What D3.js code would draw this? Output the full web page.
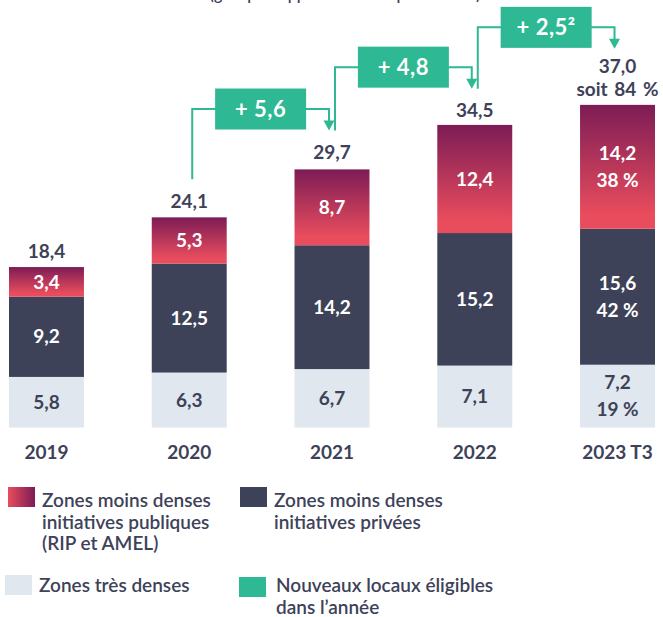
<!DOCTYPE html>
<html>
<head>
<meta charset="utf-8">
<script src="https://cdn.jsdelivr.net/npm/d3@7"></script>
<style>
  body { margin: 0; background: #fff; }
  svg { display: block; font-family: Lato, "Open Sans", sans-serif; }
</style>
</head>
<body>
<div class="chart"></div>
<script>
const years = ["2019", "2020", "2021", "2022", "2023 T3"];
const denseValues = [5.8, 6.3, 6.7, 7.1, 7.2];
const privateValues = [9.2, 12.5, 14.2, 15.2, 15.6];
const publicValues = [3.4, 5.3, 8.7, 12.4, 14.2];
const totalValues = [18.4, 24.1, 29.7, 34.5, 37.0];
const lastShares = ["19 %", "42 %", "38 %"];
const lastTotalNote = "soit 84 %";
const gainFrom = ["2020", "2021", "2022"];
const gainTo = ["2021", "2022", "2023 T3"];
const gainLabels = ["+ 5,6", "+ 4,8", "+ 2,5²"];
const legendItems = [
  { key: "public", lines: ["Zones moins denses", "initiatives publiques", "(RIP et AMEL)"] },
  { key: "private", lines: ["Zones moins denses", "initiatives privées"] },
  { key: "dense", lines: ["Zones très denses"] },
  { key: "gain", lines: ["Nouveaux locaux éligibles", "dans l’année"] }
];

const width = 663,
  height = 617,
  textColor = "#3e4259",
  darkColor = "#3e4259",
  lightColor = "#e1e7ee",
  greenColor = "#2eb894",
  redColor = "#e84c5d",
  purpleColor = "#7c1c55";

const fmt = (v) => d3.format(".1f")(v).replace(".", ",");

const svg = d3
  .select(".chart")
  .append("svg")
  .attr("width", width)
  .attr("height", height);

const defs = svg.append("defs");

const barGradient = defs
  .append("linearGradient")
  .attr("id", "barGradient")
  .attr("x1", 0)
  .attr("y1", 0)
  .attr("x2", 0)
  .attr("y2", 1);
barGradient.append("stop").attr("offset", 0).attr("stop-color", purpleColor);
barGradient.append("stop").attr("offset", 0.88).attr("stop-color", redColor);
barGradient.append("stop").attr("offset", 1).attr("stop-color", redColor);

const legendGradient = defs
  .append("linearGradient")
  .attr("id", "legendGradient")
  .attr("x1", 0)
  .attr("y1", 0)
  .attr("x2", 1)
  .attr("y2", 0);
legendGradient.append("stop").attr("offset", 0).attr("stop-color", redColor);
legendGradient.append("stop").attr("offset", 1).attr("stop-color", purpleColor);

const rows = years.map((year, i) => ({
  year: year,
  dense: denseValues[i],
  private: privateValues[i],
  public: publicValues[i],
  total: totalValues[i]
}));

const keys = ["dense", "private", "public"];
const fills = { dense: lightColor, private: darkColor, public: "url(#barGradient)", gain: greenColor };
const legendFills = { dense: lightColor, private: darkColor, public: "url(#legendGradient)", gain: greenColor };
const labelColors = { dense: textColor, private: "#fff", public: "#fff" };

const xScale = d3
  .scaleBand()
  .domain(years)
  .range([9, 655])
  .paddingInner(0.475)
  .paddingOuter(0);

const yScale = d3.scaleLinear().domain([0, 40]).range([427.5, 78.7]);

const stacked = d3.stack().keys(keys)(rows);

// subtitle, cut off by the top edge as in the source
svg
  .append("text")
  .attr("x", 345)
  .attr("y", 0)
  .attr("text-anchor", "middle")
  .attr("fill", textColor)
  .style("font-size", "16px")
  .style("font-weight", 600)
  .text("(gain par rapport à l’année précédente)");

const layers = svg
  .selectAll("g.layer")
  .data(stacked)
  .enter()
  .append("g")
  .attr("class", "layer");

layers
  .selectAll("rect")
  .data((layer) => layer.map((d) => ({ key: layer.key, d: d })))
  .enter()
  .append("rect")
  .attr("x", (e) => xScale(e.d.data.year))
  .attr("y", (e) => yScale(e.d[1]))
  .attr("width", xScale.bandwidth())
  .attr("height", (e) => yScale(e.d[0]) - yScale(e.d[1]))
  .attr("fill", (e) => fills[e.key]);

const segLabels = layers
  .selectAll("text")
  .data((layer, li) => layer.map((d, i) => ({ key: layer.key, d: d, li: li, last: i === years.length - 1 })))
  .enter()
  .append("text")
  .attr("text-anchor", "middle")
  .attr("fill", (e) => labelColors[e.key])
  .style("font-size", "19px")
  .style("font-weight", 700)
  .attr("transform", (e) => {
    const cy = (yScale(e.d[0]) + yScale(e.d[1])) / 2;
    return `translate(${xScale(e.d.data.year) + xScale.bandwidth() / 2}, ${cy})`;
  });

segLabels
  .append("tspan")
  .attr("x", 0)
  .attr("y", (e) => (e.last ? -13.5 : 0))
  .attr("dy", "0.35em")
  .text((e) => fmt(e.d[1] - e.d[0]));

segLabels
  .filter((e) => e.last)
  .append("tspan")
  .attr("x", 0)
  .attr("y", 13.5)
  .attr("dy", "0.35em")
  .text((e) => lastShares[e.li]);

// totals above bars
const lastYear = years[years.length - 1];
const totalLabelY = (row) => yScale(row.total) - 16 - (row.year === lastYear ? 23 : 0);

svg
  .selectAll("text.total")
  .data(rows)
  .enter()
  .append("text")
  .attr("class", "total")
  .attr("text-anchor", "middle")
  .attr("fill", textColor)
  .style("font-size", "19px")
  .style("font-weight", 700)
  .attr("x", (d) => xScale(d.year) + xScale.bandwidth() / 2)
  .attr("y", (d) => totalLabelY(d))
  .attr("dy", "0.35em")
  .text((d) => fmt(d.total));

svg
  .append("text")
  .attr("text-anchor", "middle")
  .attr("fill", textColor)
  .style("font-size", "19px")
  .style("font-weight", 700)
  .style("word-spacing", "2px")
  .attr("x", xScale(lastYear) + xScale.bandwidth() / 2)
  .attr("y", totalLabelY(rows[rows.length - 1]) + 23)
  .attr("dy", "0.35em")
  .text(lastTotalNote);

// year labels
svg
  .selectAll("text.year")
  .data(years)
  .enter()
  .append("text")
  .attr("class", "year")
  .attr("text-anchor", "middle")
  .attr("fill", textColor)
  .style("font-size", "19px")
  .style("font-weight", 700)
  .attr("x", (d) => xScale(d) + xScale.bandwidth() / 2)
  .attr("y", 452)
  .attr("dy", "0.35em")
  .text((d) => d);

// gain connectors
const rowByYear = (y) => rows.find((r) => r.year === y);
const gains = gainLabels.map((label, i) => {
  const from = rowByYear(gainFrom[i]),
    to = rowByYear(gainTo[i]);
  const sx = xScale(from.year) + xScale.bandwidth() / 2 + 3,
    ex = xScale(to.year) + xScale.bandwidth() / 2 - 3,
    sy = totalLabelY(from) - 22,
    tip = totalLabelY(to) - (to.year === lastYear ? 17 : 22);
  return { label: label, sx: sx, ex: ex, sy: sy, tip: tip, cy: tip - 21.5 };
});

const gainGroups = svg.selectAll("g.gain").data(gains).enter().append("g").attr("class", "gain");

gainGroups
  .append("path")
  .attr("d", (g) => `M${g.sx},${g.sy}V${g.cy}H${g.ex}V${g.tip - 9}`)
  .attr("fill", "none")
  .attr("stroke", greenColor)
  .attr("stroke-width", 2);

gainGroups
  .append("path")
  .attr("d", (g) => `M${g.ex - 5.5},${g.tip - 10}L${g.ex + 5.5},${g.tip - 10}L${g.ex},${g.tip}Z`)
  .attr("fill", greenColor);

gainGroups
  .append("rect")
  .attr("x", (g) => (g.sx + g.ex) / 2 - 45.5)
  .attr("y", (g) => g.cy - 20.5)
  .attr("width", 91)
  .attr("height", 41)
  .attr("fill", greenColor);

gainGroups
  .append("text")
  .attr("x", (g) => (g.sx + g.ex) / 2)
  .attr("y", (g) => g.cy)
  .attr("dy", "0.35em")
  .attr("text-anchor", "middle")
  .attr("fill", "#fff")
  .style("font-size", "22px")
  .style("font-weight", 700)
  .style("letter-spacing", "0.5px")
  .text((g) => g.label);

// legend
const legendPos = [
  { x: 8, y: 487, tx: 42, ty: 507 },
  { x: 240, y: 487, tx: 274, ty: 507 },
  { x: 5, y: 575, tx: 39, ty: 592 },
  { x: 239, y: 577, tx: 276, ty: 592 }
];

const legend = svg
  .selectAll("g.legend")
  .data(legendItems)
  .enter()
  .append("g")
  .attr("class", "legend");

legend
  .append("rect")
  .attr("x", (d, i) => legendPos[i].x)
  .attr("y", (d, i) => legendPos[i].y)
  .attr("width", 27)
  .attr("height", 20)
  .attr("fill", (d) => legendFills[d.key]);

legend
  .append("text")
  .attr("fill", textColor)
  .style("font-size", "19px")
  .style("font-weight", 600)
  .selectAll("tspan")
  .data((d, i) => d.lines.map((line, j) => ({ line: line, j: j, pos: legendPos[i] })))
  .enter()
  .append("tspan")
  .attr("x", (t) => t.pos.tx)
  .attr("y", (t) => t.pos.ty + t.j * 21.5)
  .text((t) => t.line);
</script>
</body>
</html>
